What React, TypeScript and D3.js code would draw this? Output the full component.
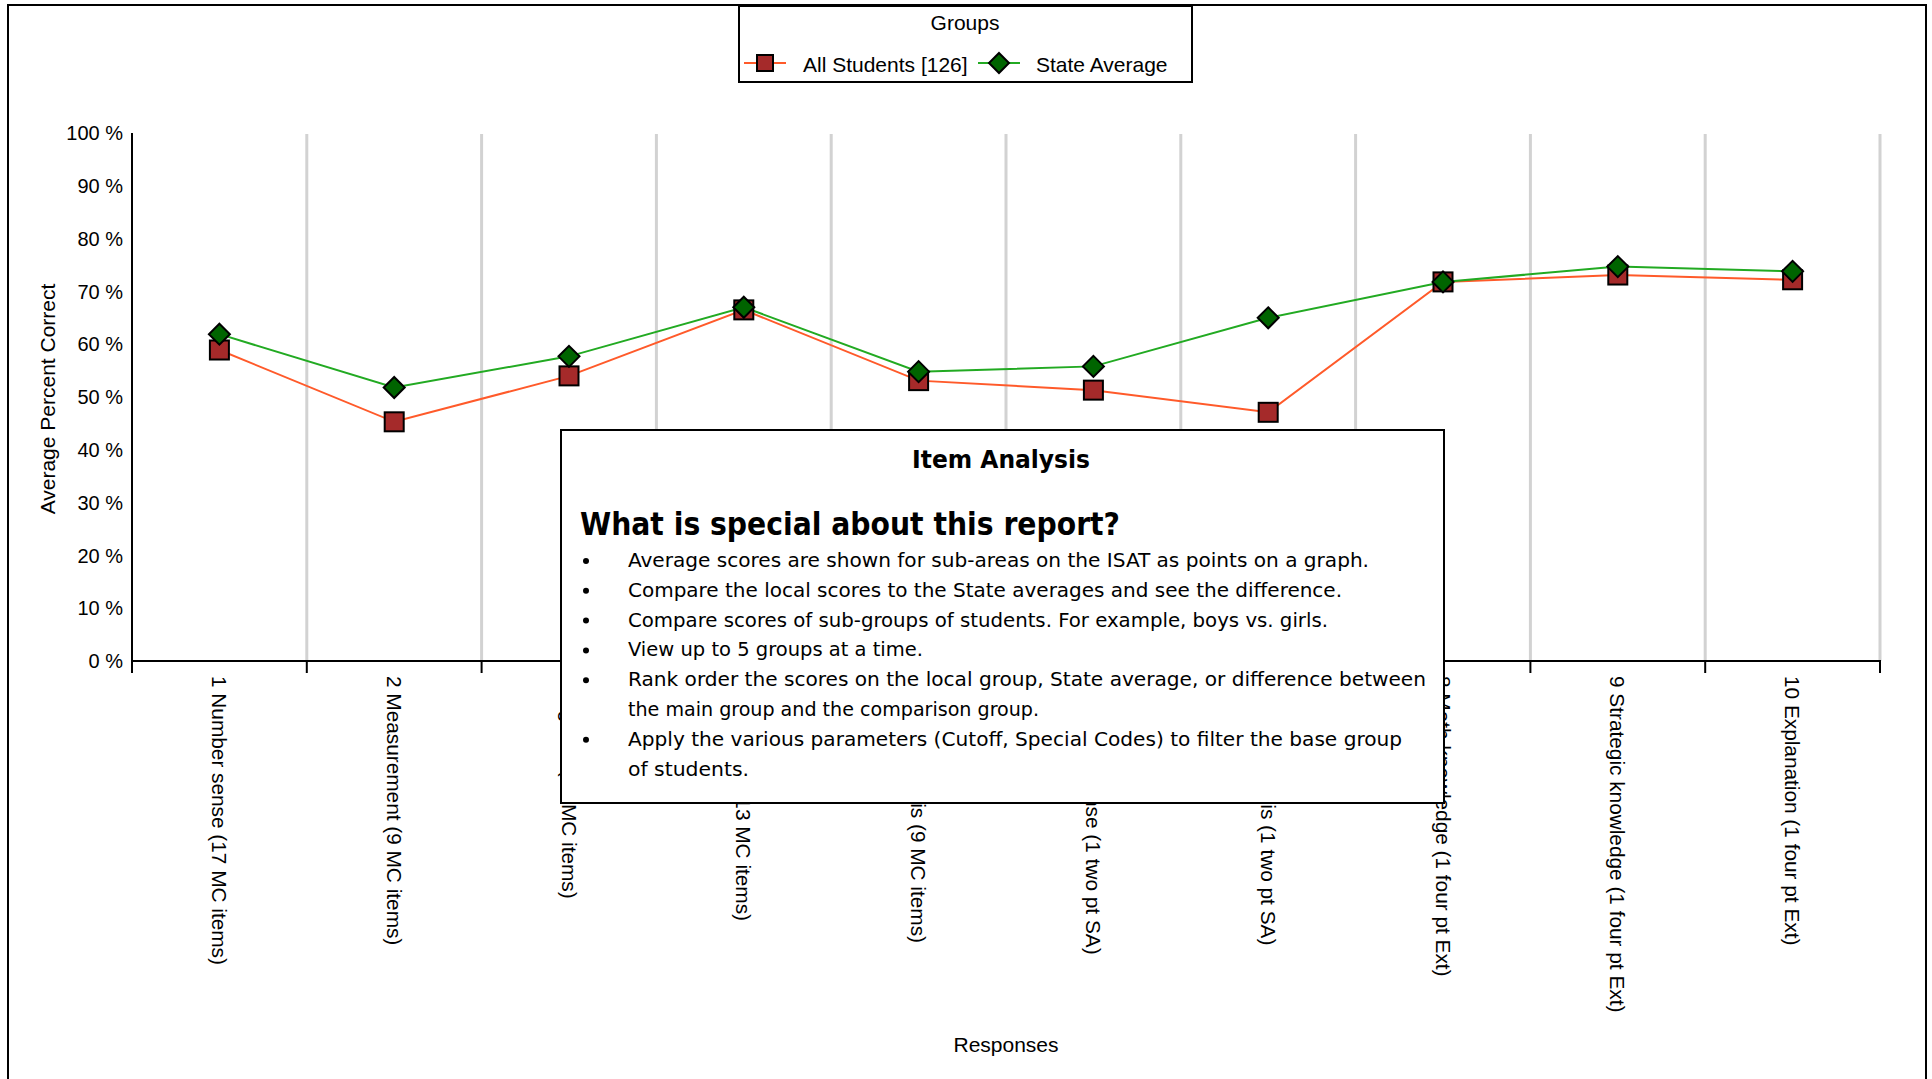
import { useMemo } from 'react';
import * as d3 from 'd3';

const categories = [
  '1 Number sense (17 MC items)',
  '2 Measurement (9 MC items)',
  '3 Algebra (11 MC items)',
  '4 Geometry (13 MC items)',
  '5 Data analysis (9 MC items)',
  '6 Number sense (1 two pt SA)',
  '7 Data Analysis (1 two pt SA)',
  '8 Math knowledge (1 four pt Ext)',
  '9 Strategic knowledge (1 four pt Ext)',
  '10 Explanation (1 four pt Ext)',
];
const allStudents = [58.9, 45.3, 54.0, 66.5, 53.1, 51.3, 47.1, 71.8, 73.1, 72.2];
const stateAverage = [61.9, 51.8, 57.7, 67.0, 54.8, 55.8, 65.0, 71.8, 74.7, 73.8];
const yTicks = [0, 10, 20, 30, 40, 50, 60, 70, 80, 90, 100];

const bullets = [
  ['Average scores are shown for sub-areas on the ISAT as points on a graph.'],
  ['Compare the local scores to the State averages and see the difference.'],
  ['Compare scores of sub-groups of students. For example, boys vs. girls.'],
  ['View up to 5 groups at a time.'],
  ['Rank order the scores on the local group, State average, or difference between', 'the main group and the comparison group.'],
  ['Apply the various parameters (Cutoff, Special Codes) to filter the base group', 'of students.'],
];
// rough widths of each printed line in the note box
const lineWidths = [741, 714, 700, 295, 798, 411, 774, 121];

const W = 1932;
const H = 1079;
const sans = 'Arial, "Liberation Sans", Helvetica, sans-serif';
const comic = '"Comic Sans MS", "DejaVu Sans Condensed", "Open Sans", sans-serif';

const App = () => {
  const x = useMemo(() => d3.scaleBand().domain(categories).range([132, 1880]), []);
  const y = useMemo(() => d3.scaleLinear().domain([0, 100]).range([661, 133]), []);
  const cx = (i) => x(categories[i]) + x.bandwidth() / 2;

  const line = d3.line().x((d, i) => cx(i)).y(d => y(d));

  const boundaries = [x.range()[0], ...categories.map(c => x(c) + x.bandwidth())];

  let row = 0;
  const noteLines = [];
  bullets.forEach((b) => {
    b.forEach((t, j) => {
      noteLines.push({ text: t, bullet: j === 0, row, w: lineWidths[row] });
      row++;
    });
  });

  return (
    <svg width={W} height={H} style={{ position: 'absolute', left: 0, top: 0, background: '#fff' }}>
      <rect x={8} y={5} width={1918} height={1100} fill="#fff" stroke="#000" strokeWidth={2} />

      {/* legend */}
      <rect x={739} y={6} width={453} height={76} fill="#fff" stroke="#000" strokeWidth={2} />
      <text x={965} y={30} textAnchor="middle" fontFamily={sans} fontSize={21}>Groups</text>
      <line x1={744} x2={786} y1={63} y2={63} stroke="#ff5a2a" strokeWidth={2} />
      <rect x={757} y={55} width={16} height={16} fill="#a52a2a" stroke="#000" strokeWidth={2} />
      <text x={803} y={72} fontFamily={sans} fontSize={21}>All Students [126]</text>
      <line x1={978} x2={1020} y1={63} y2={63} stroke="#22aa22" strokeWidth={2} />
      <path d="M999,53 L1009,63 L999,73 L989,63 Z" fill="#006400" stroke="#000" strokeWidth={2} />
      <text x={1036} y={72} fontFamily={sans} fontSize={21}>State Average</text>

      {/* grid */}
      {categories.map(c => (
        <line key={c} x1={x(c) + x.bandwidth()} x2={x(c) + x.bandwidth()} y1={134} y2={661}
          stroke="#d2d2d2" strokeWidth={3} />
      ))}

      {/* axes */}
      <line x1={132} x2={132} y1={y(100)} y2={y(0)} stroke="#000" strokeWidth={2} />
      <line x1={131} x2={1881} y1={y(0)} y2={y(0)} stroke="#000" strokeWidth={2} />
      {boundaries.map((b, i) => (
        <line key={i} x1={b} x2={b} y1={y(0)} y2={y(0) + 12} stroke="#000" strokeWidth={2} />
      ))}
      {yTicks.map(t => (
        <text key={t} x={123} y={y(t)} dy="0.36em" textAnchor="end" fontFamily={sans} fontSize={20}>{t} %</text>
      ))}
      <text transform={`translate(47,${(y(0) + y(100)) / 2 + 2}) rotate(-90)`} dy="0.36em" textAnchor="middle"
        fontFamily={sans} fontSize={21}>Average Percent Correct</text>

      {categories.map((c, i) => (
        <text key={c} transform={`translate(${cx(i)},${y(0) + 15}) rotate(90)`} dy="0.36em"
          fontFamily={sans} fontSize={20.8}>{c}</text>
      ))}
      <text x={(132 + 1880) / 2} y={1052} textAnchor="middle" fontFamily={sans} fontSize={21}>Responses</text>

      {/* series */}
      <path d={line(allStudents)} fill="none" stroke="#ff5a2a" strokeWidth={2} />
      <path d={line(stateAverage)} fill="none" stroke="#22aa22" strokeWidth={2} />
      {allStudents.map((v, i) => (
        <rect key={i} x={cx(i) - 9.5} y={y(v) - 9.5} width={19} height={19} fill="#a52a2a" stroke="#000" strokeWidth={2} />
      ))}
      {stateAverage.map((v, i) => (
        <path key={i} d={`M${cx(i)},${y(v) - 10.5} l10.5,10.5 l-10.5,10.5 l-10.5,-10.5 Z`}
          fill="#006400" stroke="#000" strokeWidth={2} />
      ))}

      {/* note box */}
      <rect x={561} y={430} width={883} height={373} fill="#fff" stroke="#000" strokeWidth={2} />
      <text x={1001} y={468} textAnchor="middle" fontFamily={comic} fontWeight="bold" fontSize={24}
        textLength={178} lengthAdjust="spacingAndGlyphs">Item Analysis</text>
      <text x={580} y={535} fontFamily={comic} fontWeight="bold" fontSize={32}
        textLength={540} lengthAdjust="spacingAndGlyphs">What is special about this report?</text>
      {noteLines.map(l => (
        <g key={l.row}>
          {l.bullet && <circle cx={586} cy={567 + l.row * 29.8 - 6} r={3} fill="#000" />}
          <text x={628} y={567 + l.row * 29.8} fontFamily={comic} fontSize={20}
            textLength={l.w} lengthAdjust="spacingAndGlyphs">{l.text}</text>
        </g>
      ))}
    </svg>
  );
};

export default App;
